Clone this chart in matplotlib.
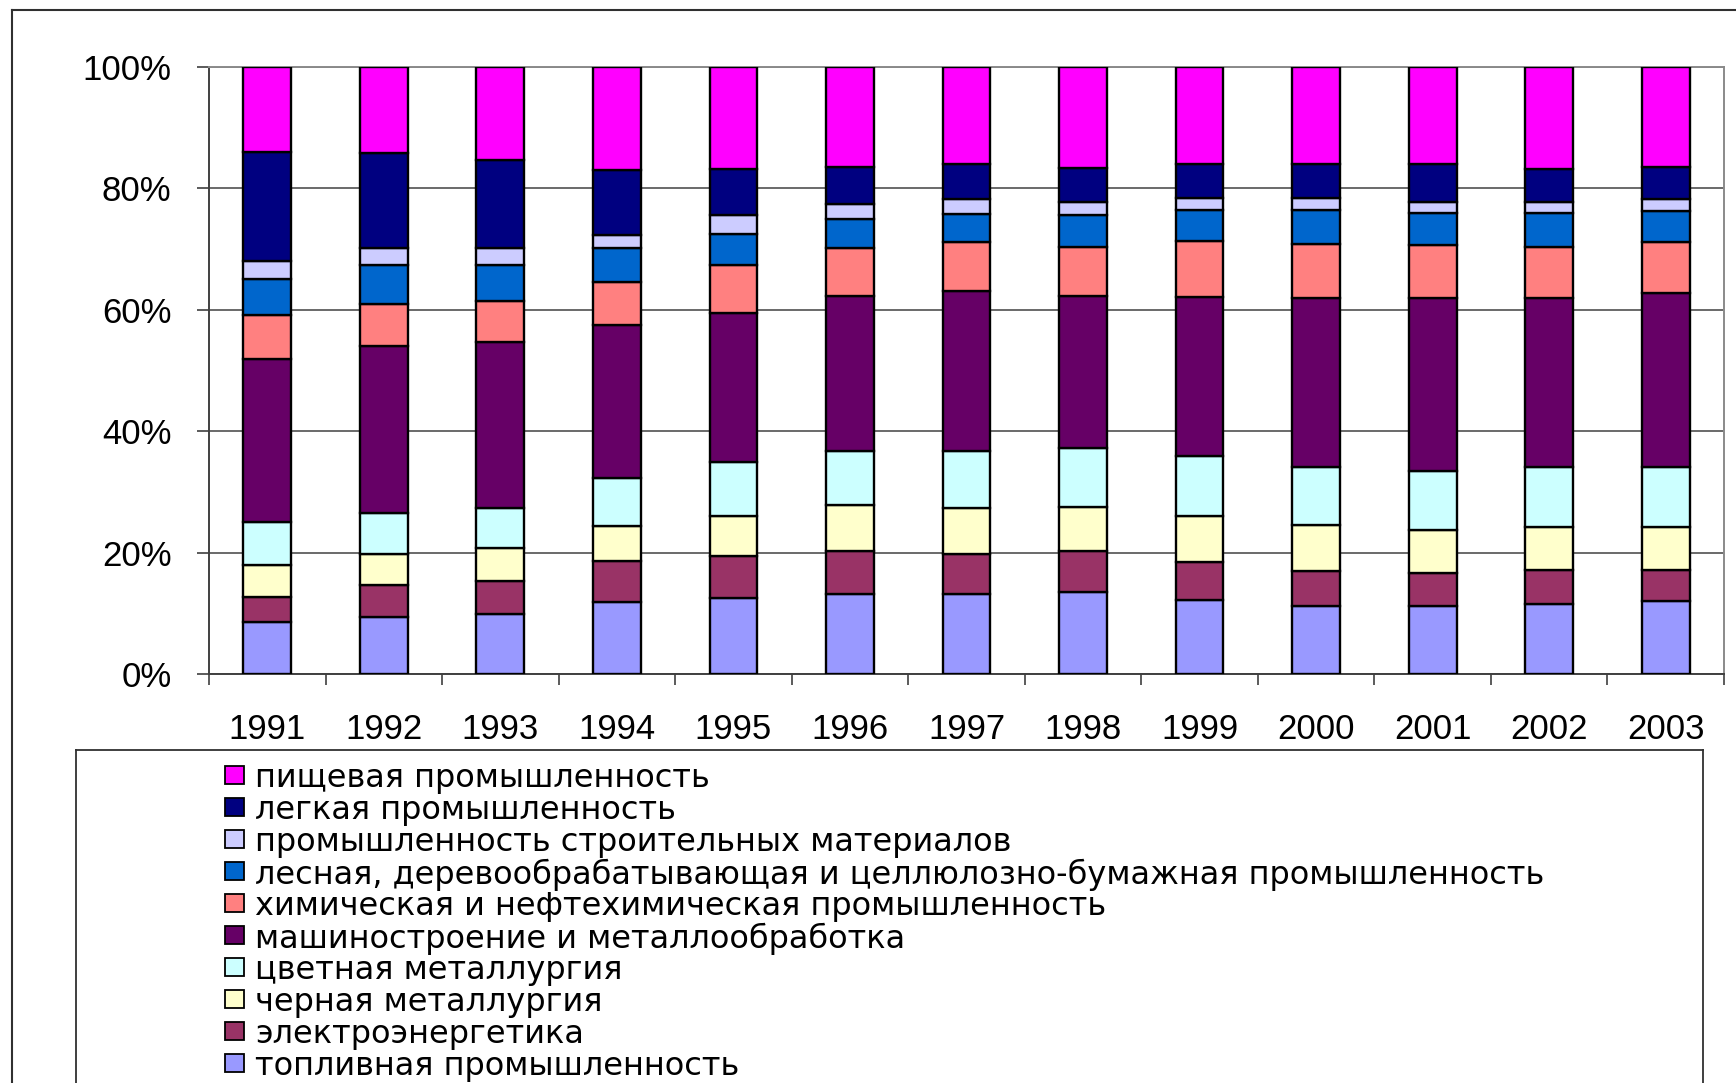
import numpy as np
import matplotlib
matplotlib.use("Agg")
import matplotlib.pyplot as plt
from matplotlib.patches import Rectangle
from matplotlib.lines import Line2D

# ---- data: share of each industry in total output, % ----
YEARS = ["1991", "1992", "1993", "1994", "1995", "1996", "1997",
         "1998", "1999", "2000", "2001", "2002", "2003"]

fuel = [8.5, 9.4, 9.9, 11.8, 12.5, 13.1, 13.1, 13.5, 12.2, 11.2, 11.2, 11.6, 12.1]
power = [4.2, 5.2, 5.4, 6.8, 6.9, 7.1, 6.7, 6.8, 6.2, 5.8, 5.5, 5.5, 5.0]
ferrous = [5.3, 5.2, 5.5, 5.7, 6.7, 7.7, 7.5, 7.2, 7.7, 7.6, 7.1, 7.1, 7.1]
nonferrous = [7.1, 6.7, 6.6, 8.0, 8.9, 8.8, 9.4, 9.7, 9.8, 9.5, 9.7, 9.9, 9.9]
machinery = [26.8, 27.5, 27.3, 25.2, 24.4, 25.5, 26.4, 25.0, 26.2, 27.9, 28.5, 27.9, 28.6]
chemical = [7.2, 7.0, 6.8, 7.0, 7.9, 7.9, 8.1, 8.2, 9.2, 8.9, 8.7, 8.3, 8.5]
forest = [5.9, 6.3, 5.8, 5.6, 5.2, 4.8, 4.6, 5.2, 5.1, 5.5, 5.2, 5.6, 5.0]
building = [3.1, 2.8, 2.8, 2.3, 3.1, 2.6, 2.4, 2.1, 2.0, 2.0, 1.9, 1.9, 2.1]
light = [17.9, 15.8, 14.5, 10.7, 7.6, 6.1, 5.8, 5.6, 5.6, 5.6, 6.2, 5.4, 5.3]
food = [14.0, 14.1, 15.4, 16.9, 16.8, 16.4, 16.0, 16.7, 16.0, 16.0, 16.0, 16.8, 16.4]

# bottom -> top stacking order
SERIES = [fuel, power, ferrous, nonferrous, machinery,
          chemical, forest, building, light, food]
LABELS = ["топливная промышленность",
          "электроэнергетика",
          "черная металлургия",
          "цветная металлургия",
          "машиностроение и металлообработка",
          "химическая и нефтехимическая промышленность",
          "лесная, деревообрабатывающая и целлюлозно-бумажная промышленность",
          "промышленность строительных материалов",
          "легкая промышленность",
          "пищевая промышленность"]
COLORS = ["#9999FF", "#993366", "#FFFFCC", "#CCFFFF", "#660066",
          "#FF8080", "#0066CC", "#CCCCFF", "#000080", "#FF00FF"]

W, H = 1736, 1083
fig = plt.figure(figsize=(W / 100, H / 100), dpi=100)
fig.patch.set_facecolor("white")

def fx(px):
    return px / W

def fy(py):
    return 1 - py / H

ax = fig.add_axes([fx(209), fy(674), fx(1724) - fx(209), fy(67) - fy(674)])

data = np.array(SERIES, dtype=float)
data = data / data.sum(axis=0) * 100
x = np.arange(len(YEARS))
bottom = np.zeros(len(YEARS))
for vals, col in zip(data, COLORS):
    ax.bar(x, vals, bottom=bottom, width=0.41, color=col,
           edgecolor="black", linewidth=1.7, zorder=3)
    bottom += vals

ax.set_xlim(-0.5, len(YEARS) - 0.5)
ax.set_ylim(0, 100)

# y axis
ax.set_yticks(np.arange(0, 101, 20))
ax.set_yticklabels([f"{v}%" for v in range(0, 101, 20)])
ax.yaxis.grid(True, color="#505050", linewidth=1.2, zorder=0)
ax.tick_params(axis="y", direction="out", length=9, width=1.2,
               color="#404040", pad=18, labelsize=25)

# x axis: labels at centres, ticks between categories
ax.set_xticks(x)
ax.set_xticklabels(YEARS)
ax.set_xticks(np.arange(-0.5, len(YEARS)), minor=True)
ax.tick_params(axis="x", which="major", length=0, pad=28, labelsize=25)
ax.tick_params(axis="x", which="minor", direction="out", length=8,
               width=1.2, color="#404040")

for lab in ax.get_xticklabels() + ax.get_yticklabels():
    lab.set_fontfamily("Liberation Sans")

ax.spines["left"].set_color("#404040")
ax.spines["bottom"].set_color("#404040")
ax.spines["left"].set_linewidth(1.4)
ax.spines["bottom"].set_linewidth(1.4)
ax.spines["top"].set_color("#8a8a8a")
ax.spines["right"].set_color("#8a8a8a")
ax.spines["top"].set_linewidth(1.4)
ax.spines["right"].set_linewidth(1.4)

# outer chart border (runs off the right and bottom edge)
fig.add_artist(Line2D([fx(12), 1.0], [fy(10), fy(10)], color="#303030",
                      linewidth=1.5, transform=fig.transFigure))
fig.add_artist(Line2D([fx(12), fx(12)], [fy(10), 0.0], color="#303030",
                      linewidth=1.5, transform=fig.transFigure))

# legend box
for xs, ys in [([76, 1703], [750, 750]), ([76, 76], [750, H + 5]),
               ([1703, 1703], [750, H + 5])]:
    fig.add_artist(Line2D([fx(v) for v in xs], [fy(v) for v in ys],
                          color="#303030", linewidth=1.3,
                          transform=fig.transFigure))

# legend entries, top entry = top of stack
row0, step = 775, 32.0
for i, (lab, col) in enumerate(zip(LABELS[::-1], COLORS[::-1])):
    yc = row0 + i * step
    fig.add_artist(Rectangle((fx(225), fy(yc + 9)), fx(19), fy(0) - fy(18),
                             facecolor=col, edgecolor="black", linewidth=1.3,
                             transform=fig.transFigure))
    fig.text(fx(255), fy(yc), lab, ha="left", va="center_baseline",
             fontsize=23, family="DejaVu Sans")

fig.savefig("out.png", dpi=100)
